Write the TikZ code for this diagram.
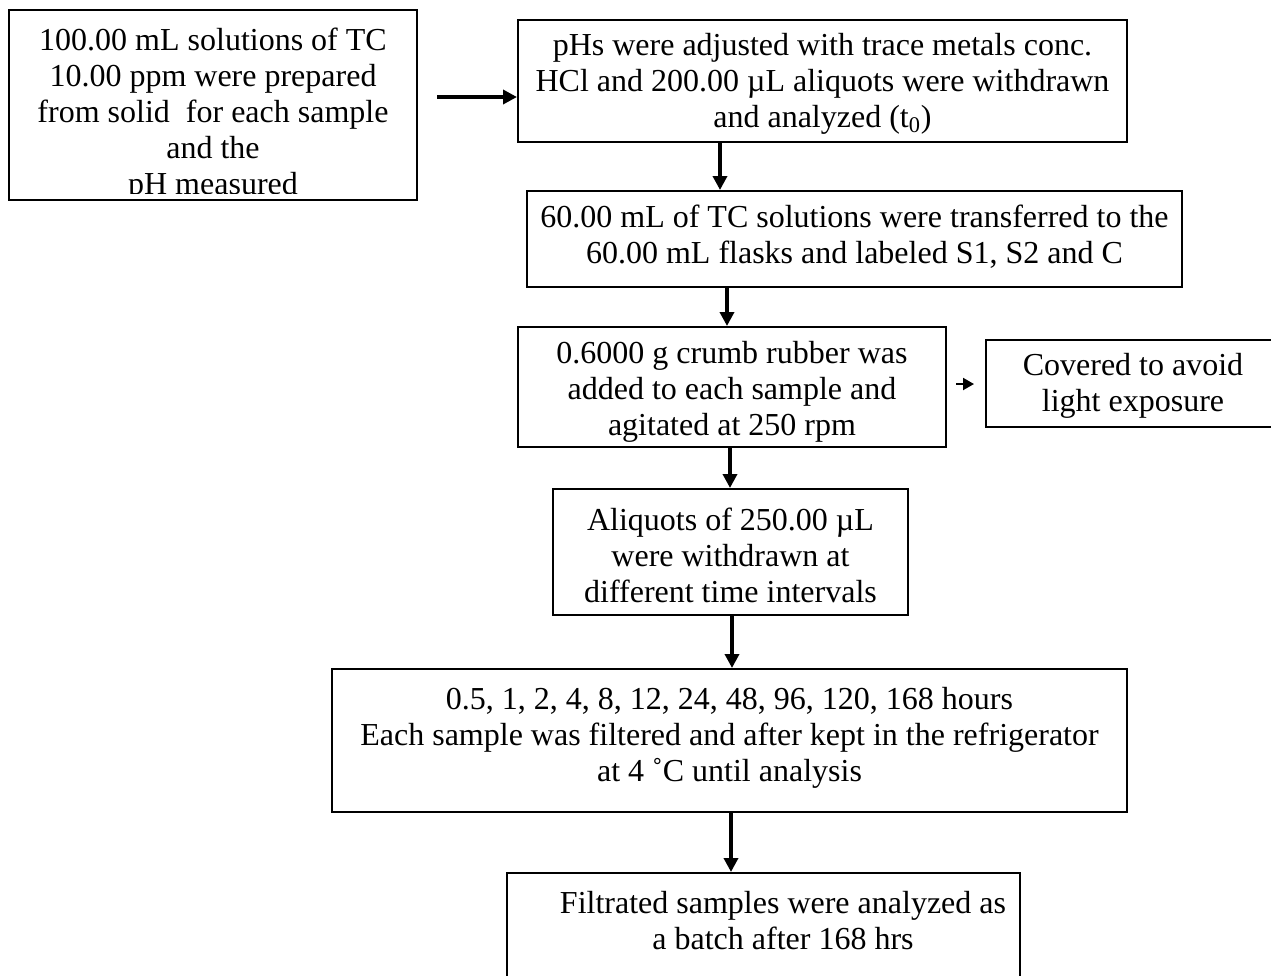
\documentclass[tikz,border=0pt]{standalone}
\usepackage{fontspec}
\setmainfont{Liberation Serif}
\usetikzlibrary{arrows.meta}
\tikzset{
  box/.style={draw=black, line width=1pt, inner sep=0pt, fill=none},
  txt/.style={inner sep=0pt, align=center, font=\fontsize{16pt}{18pt}\selectfont},
  arr/.style={line width=2pt, -{Triangle[length=7pt,width=7pt]}},
  sarr/.style={line width=1pt, -{Triangle[length=5.5pt,width=6pt]}}
}
\begin{document}
\begin{tikzpicture}[x=0.5pt,y=-0.5pt]
\useasboundingbox (0,0) rectangle (1271,976);
\clip (0,0) rectangle (1271,976);
% boxes
\node[box, minimum width=204pt, minimum height=95pt] (b1) at (213,105) {};
\begin{scope}
\clip (9,10) rectangle (417,193);
\node[txt] (t1) at (213,114.5) {100.00 mL solutions of TC\\10.00 ppm were prepared\\from solid\ \ for each sample\\and the\\pH measured};
\end{scope}
\node[box, minimum width=304.5pt, minimum height=61pt] (b2) at (822.5,81) {};
\node[txt] (t2) at (822.5,84) {pHs were adjusted with trace metals conc.\\HCl and 200.00 µL aliquots were withdrawn\\and analyzed (t\textsubscript{0})};
\node[box, minimum width=327.5pt, minimum height=48pt] (b3) at (854.5,239) {};
\node[txt] (t3) at (854.5,237) {60.00 mL of TC solutions were transferred to the\\60.00 mL flasks and labeled S1, S2 and C};
\node[box, minimum width=214pt, minimum height=60pt] (b4) at (732,387) {};
\node[txt] (t4) at (732,392) {0.6000 g crumb rubber was\\added to each sample and\\agitated at 250 rpm};
\node[box, minimum width=147pt, minimum height=43.5pt] (b5) at (1133,383.5) {};
\node[txt] (t5) at (1133,386) {Covered to avoid\\light exposure};
\node[box, minimum width=177.5pt, minimum height=63pt] (b6) at (730.5,552) {};
\node[txt] (t6) at (730.5,555) {Aliquots of 250.00 µL\\were withdrawn at\\different time intervals};
\node[box, minimum width=397.5pt, minimum height=71.5pt] (b7) at (729.5,740.5) {};
\node[txt] (t7) at (729.5,738) {0.5, 1, 2, 4, 8, 12, 24, 48, 96, 120, 168 hours\\Each sample was filtered and after kept in the refrigerator\\at 4 ˚C until analysis};
\node[box, minimum width=256.5pt, minimum height=70pt] (b8) at (763.5,943) {};
\node[txt] (t8) at (783,921) {Filtrated samples were analyzed as\\a batch after 168 hrs};
% arrow positions
\coordinate (a1s) at (437,97);
\coordinate (x2) at (720,0);
\coordinate (x3) at (727,0);
\coordinate (x5) at (730,0);
\coordinate (x6) at (732,0);
\coordinate (x7) at (731,0);
\coordinate (a4s) at (956,384);
% arrows
\draw[arr] (a1s) -- (a1s -| b2.west);
\draw[arr] (b2.south -| x2) -- (b3.north -| x2);
\draw[arr] (b3.south -| x3) -- (b4.north -| x3);
\draw[sarr] (a4s) -- ([xshift=-5.5pt]a4s -| b5.west);
\draw[arr] (b4.south -| x5) -- (b6.north -| x5);
\draw[arr] (b6.south -| x6) -- (b7.north -| x6);
\draw[arr] (b7.south -| x7) -- (b8.north -| x7);
\end{tikzpicture}
\end{document}
